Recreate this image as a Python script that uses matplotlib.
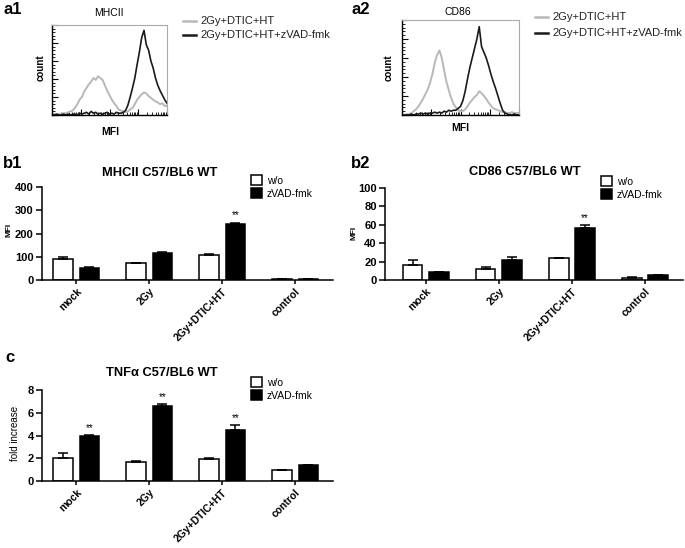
import numpy as np
import matplotlib
matplotlib.use("Agg")
import matplotlib.pyplot as plt
from matplotlib.patches import Patch
from matplotlib.lines import Line2D

plt.rcParams['font.family'] = ['Liberation Sans', 'DejaVu Sans']

# ---------------- data ----------------
# flow cytometry histograms (relative count vs log channel, 0..1000)
channel = np.arange(0, 1001, 20)
a1_gray = [0.00, 0.01, 0.00, 0.01, 0.01, 0.02, 0.02, 0.03, 0.04, 0.05, 0.08, 0.12, 0.17, 0.20, 0.26,
           0.30, 0.34, 0.37, 0.41, 0.39, 0.43, 0.41, 0.39, 0.33, 0.27, 0.22, 0.17, 0.13, 0.10, 0.06,
           0.05, 0.04, 0.03, 0.04, 0.06, 0.08, 0.12, 0.17, 0.20, 0.23, 0.25, 0.24, 0.21, 0.19, 0.17,
           0.15, 0.14, 0.12, 0.13, 0.10, 0.10]
a1_black = [0.00, 0.00, 0.01, 0.00, 0.00, 0.01, 0.00, 0.01, 0.00, 0.01, 0.01, 0.00, 0.02, 0.01, 0.02,
            0.03, 0.01, 0.04, 0.02, 0.03, 0.01, 0.02, 0.01, 0.02, 0.03, 0.01, 0.02, 0.01, 0.03, 0.02,
            0.02, 0.03, 0.05, 0.11, 0.20, 0.30, 0.41, 0.56, 0.70, 0.86, 0.94, 0.78, 0.72, 0.60, 0.52,
            0.41, 0.33, 0.27, 0.22, 0.17, 0.13]
a2_gray = [0.00, 0.00, 0.01, 0.01, 0.02, 0.04, 0.06, 0.09, 0.13, 0.17, 0.22, 0.27, 0.34, 0.43, 0.55,
           0.63, 0.68, 0.60, 0.47, 0.35, 0.26, 0.18, 0.12, 0.08, 0.05, 0.04, 0.04, 0.06, 0.09, 0.13,
           0.16, 0.19, 0.21, 0.25, 0.23, 0.20, 0.17, 0.13, 0.10, 0.07, 0.06, 0.05, 0.04, 0.03, 0.03,
           0.02, 0.02, 0.03, 0.02, 0.02, 0.02]
a2_black = [0.00, 0.00, 0.00, 0.00, 0.01, 0.00, 0.01, 0.01, 0.02, 0.01, 0.02, 0.01, 0.02, 0.02, 0.03,
            0.02, 0.03, 0.02, 0.04, 0.03, 0.05, 0.04, 0.05, 0.05, 0.07, 0.09, 0.15, 0.25, 0.38, 0.50,
            0.60, 0.70, 0.80, 0.93, 0.72, 0.66, 0.60, 0.52, 0.43, 0.35, 0.28, 0.20, 0.12, 0.05, 0.02,
            0.01, 0.00, 0.00, 0.01, 0.00, 0.00]
hist_labels = ["2Gy+DTIC+HT", "2Gy+DTIC+HT+zVAD-fmk"]

# bar charts
groups = ["mock", "2Gy", "2Gy+DTIC+HT", "control"]
series_names = ["w/o", "zVAD-fmk"]
mhc_wo = [90, 72, 107, 4]
mhc_wo_err = [7, 2, 6, 0.5]
mhc_z = [50, 115, 242, 4]
mhc_z_err = [5, 6, 5, 0.5]
mhc_sig = ["", "", "**", ""]

cd86_wo = [16, 12.5, 23.5, 2.5]
cd86_wo_err = [5.5, 1.2, 0.5, 0.3]
cd86_z = [8.5, 21.5, 57, 5]
cd86_z_err = [0.4, 3, 2.5, 0.3]
cd86_sig = ["", "", "**", ""]

tnf_wo = [2.0, 1.68, 1.96, 0.98]
tnf_wo_err = [0.42, 0.08, 0.07, 0.03]
tnf_z = [3.93, 6.62, 4.5, 1.38]
tnf_z_err = [0.08, 0.12, 0.4, 0.03]
tnf_sig = ["**", "**", "**", ""]

# ---------------- figure ----------------
W, H = 685, 548
fig = plt.figure(figsize=(W / 100, H / 100), dpi=100)


def px_axes(l, t, r, b):
    return fig.add_axes([l / W, 1 - b / H, (r - l) / W, (b - t) / H])


def ftext(x, y, s, **kw):
    fig.text(x / W, 1 - y / H, s, **kw)


GRAY = '#b8b8b8'
BLK = '#1a1a1a'


def histo(ax, gray, black, title, tx, ty, cx, cy, mx, my, legx, legy1, legy2):
    ax.plot(channel, gray, color=GRAY, lw=1.4)
    ax.plot(channel, black, color=BLK, lw=1.2)
    ax.set_xlim(0, 1000)
    ax.set_ylim(0, 1.0)
    for s in ['top', 'right']:
        ax.spines[s].set_color('#aaaaaa')
        ax.spines[s].set_linewidth(0.8)
    for s in ['left', 'bottom']:
        ax.spines[s].set_color('black')
        ax.spines[s].set_linewidth(1.0)
    major = [0, 250, 500, 750, 1000]
    minor = [d * 250 + 250 * np.log10(k) for d in range(4) for k in range(2, 10)]
    ax.set_xticks(major)
    ax.set_xticks(minor, minor=True)
    ax.set_yticks(np.arange(0, 1.01, 0.2))
    ax.set_yticks(np.arange(0, 1.01, 0.04), minor=True)
    ax.tick_params(axis='both', which='major', direction='in', length=4, width=0.8,
                   labelbottom=False, labelleft=False)
    ax.tick_params(axis='both', which='minor', direction='in', length=2, width=0.6)
    ftext(tx, ty, title, ha='center', va='center', fontsize=7.5)
    ftext(cx, cy, "count", ha='center', va='center', rotation=90, fontsize=7, fontweight='bold')
    ftext(mx, my, "MFI", ha='center', va='center', fontsize=7.5, fontweight='bold')
    for yy, col, lab in [(legy1, GRAY, hist_labels[0]), (legy2, BLK, hist_labels[1])]:
        fig.add_artist(Line2D([legx / W, (legx + 13) / W], [1 - yy / H, 1 - yy / H],
                              color=col, lw=1.8, transform=fig.transFigure))
        ftext(legx + 17, yy, lab, ha='left', va='center', fontsize=8, color='#222222')


ax_a1 = px_axes(52, 25, 167, 115)
histo(ax_a1, a1_gray, a1_black, "MHCII", 109, 13, 41, 68, 110, 132, 183, 21, 35)
ax_a2 = px_axes(402, 20, 519, 115)
histo(ax_a2, a2_gray, a2_black, "CD86", 458, 12, 389, 68, 460, 128, 535, 17, 33)

ftext(4, 9, "a1", ha='left', va='center', fontsize=12, fontweight='bold')
ftext(351, 9, "a2", ha='left', va='center', fontsize=12, fontweight='bold')


def barchart(ax, wo, wo_err, z, z_err, sig, ylim, yticks, xlim,
             title, tx, ty, legx, legy):
    x = np.arange(len(groups))
    off = 0.18
    bw = 0.265
    ax.bar(x - off, wo, bw, color='white', edgecolor='black', linewidth=1.1, zorder=2)
    ax.bar(x + off, z, bw, color='black', edgecolor='black', linewidth=1.1, zorder=2)
    ax.errorbar(x - off, wo, yerr=[np.zeros(len(wo)), wo_err], fmt='none', ecolor='black',
                elinewidth=1.1, capsize=3.3, capthick=1.1, zorder=3)
    ax.errorbar(x + off, z, yerr=[np.zeros(len(z)), z_err], fmt='none', ecolor='black',
                elinewidth=1.1, capsize=3.3, capthick=1.1, zorder=3)
    for xi, v, e, s in zip(x + off, z, z_err, sig):
        if s:
            ax.annotate(s, (xi, v + e), xytext=(0, 1.5), textcoords='offset points',
                        ha='center', va='bottom', fontsize=7)
    ax.set_xlim(*xlim)
    ax.set_ylim(*ylim)
    ax.set_yticks(yticks)
    ax.set_yticklabels([str(t) for t in yticks], fontsize=8, fontweight='bold')
    ax.set_xticks(x)
    ax.set_xticklabels(groups, rotation=45, ha='right', va='top', rotation_mode='anchor',
                       fontsize=7.5, fontweight='bold')
    for s in ['top', 'right']:
        ax.spines[s].set_visible(False)
    for s in ['left', 'bottom']:
        ax.spines[s].set_linewidth(1.1)
    ax.tick_params(axis='y', direction='out', length=4, width=1.1, pad=2)
    ax.tick_params(axis='x', direction='out', length=3, width=1.1, pad=1.5)
    ftext(tx, ty, title, ha='center', va='center', fontsize=9.3, fontweight='bold')
    handles = [Patch(facecolor='white', edgecolor='black', linewidth=1.1),
               Patch(facecolor='black', edgecolor='black', linewidth=1.1)]
    fig.legend(handles, series_names, loc='upper left', bbox_to_anchor=(legx / W, 1 - legy / H),
               bbox_transform=fig.transFigure, frameon=False, fontsize=7.5, borderpad=0,
               borderaxespad=0, handlelength=1.1, handleheight=1.1, handletextpad=0.4,
               labelspacing=0.25)


ax_b1 = px_axes(42, 187, 333, 280)
barchart(ax_b1, mhc_wo, mhc_wo_err, mhc_z, mhc_z_err, mhc_sig, (0, 400), [0, 100, 200, 300, 400],
         (-0.47, 3.52), "MHCII C57/BL6 WT", 160, 173, 251, 175)
ftext(9, 230, "MFI", ha='center', va='center', rotation=90, fontsize=6, fontweight='bold')

ax_b2 = px_axes(385, 188, 683, 280)
barchart(ax_b2, cd86_wo, cd86_wo_err, cd86_z, cd86_z_err, cd86_sig, (0, 100), [0, 20, 40, 60, 80, 100],
         (-0.56, 3.52), "CD86 C57/BL6 WT", 525, 172, 601, 176)
ftext(354, 233, "MFI", ha='center', va='center', rotation=90, fontsize=6, fontweight='bold')

ax_c = px_axes(42, 390, 333, 481)
barchart(ax_c, tnf_wo, tnf_wo_err, tnf_z, tnf_z_err, tnf_sig, (0, 8), [0, 2, 4, 6, 8],
         (-0.47, 3.52), "TNF\u03b1 C57/BL6 WT", 162, 373, 251, 377)
ftext(15, 433, "fold increase", ha='center', va='center', rotation=90, fontsize=7)

ftext(3, 163, "b1", ha='left', va='center', fontsize=12, fontweight='bold')
ftext(351, 163, "b2", ha='left', va='center', fontsize=12, fontweight='bold')
ftext(5, 357, "c", ha='left', va='center', fontsize=12, fontweight='bold')

fig.savefig("out.png", dpi=100)
